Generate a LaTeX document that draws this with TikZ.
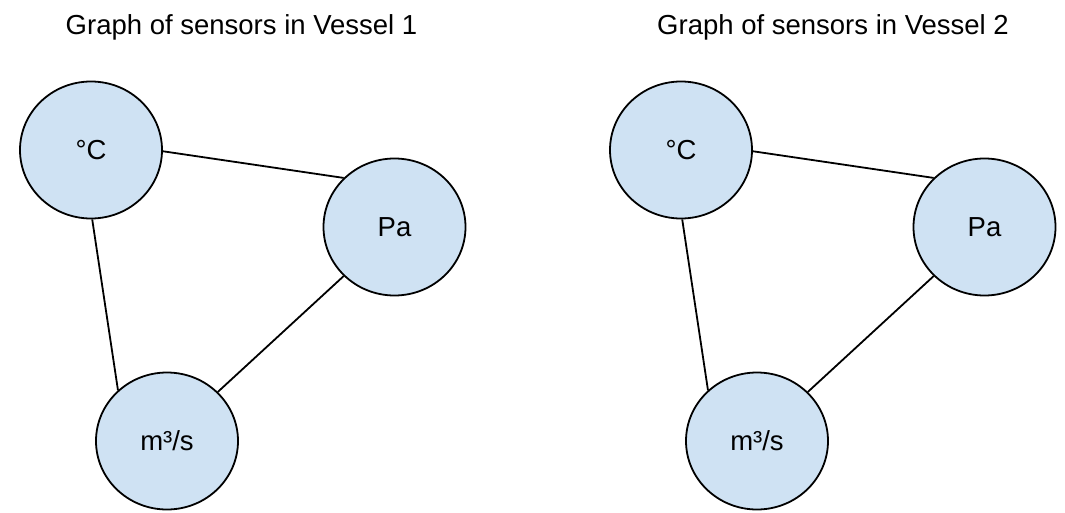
\documentclass[tikz,border=0pt]{standalone}
\usepackage{fontspec}
\setmainfont{Liberation Sans}
\usetikzlibrary{shapes.geometric}
\definecolor{nodeblue}{HTML}{CFE2F3}
\tikzset{
  sensor/.style={ellipse, draw=black, line width=1.8pt, fill=nodeblue,
    minimum width=142pt, minimum height=137pt, inner sep=0pt,
    font=\fontsize{27.5pt}{30pt}\selectfont, text height=19.7pt, text depth=0pt},
  title/.style={anchor=base, font=\fontsize{27.5pt}{30pt}\selectfont, inner sep=0pt},
  edge/.style={draw=black, line width=1.8pt}
}
\begin{document}
\begin{tikzpicture}[x=1pt,y=-1pt]
\useasboundingbox[fill=white] (0,0) rectangle (1065,513);
% Vessel 1
\node[title] (t1) at (241.5,35) {Graph of sensors in Vessel 1};
\node[sensor] (c1) at (91,150) {°C};
\node[sensor] (p1) at (394.5,227) {Pa};
\node[sensor] (m1) at (167,441) {m³/s};
\draw[edge] (c1.-1) -- (p1.136);
\draw[edge] (c1.-89) -- (m1.134);
\draw[edge] (p1.224) -- (m1.44);
% Vessel 2
\node[title] (t2) at (833,35) {Graph of sensors in Vessel 2};
\node[sensor] (c2) at (681,150) {°C};
\node[sensor] (p2) at (984.5,227) {Pa};
\node[sensor] (m2) at (757,441) {m³/s};
\draw[edge] (c2.-1) -- (p2.136);
\draw[edge] (c2.-89) -- (m2.134);
\draw[edge] (p2.224) -- (m2.44);
\end{tikzpicture}
\end{document}
